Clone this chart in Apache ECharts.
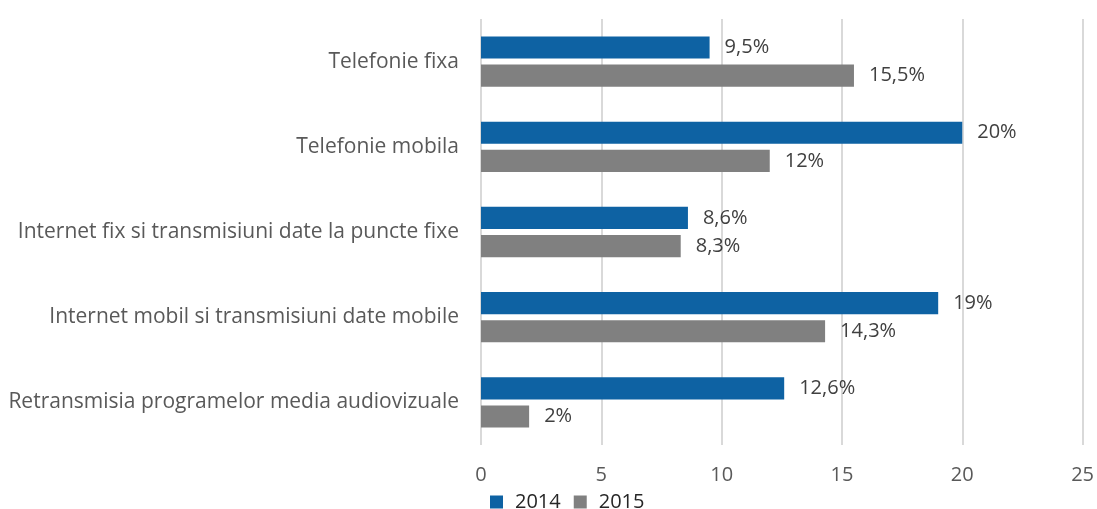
<!DOCTYPE html>
<html>
<head>
<meta charset="utf-8">
<script src="https://cdn.jsdelivr.net/npm/echarts@6/dist/echarts.min.js"></script>
<style>
  html, body { margin: 0; padding: 0; background: #fff; }
  #main { width: 1097px; height: 509px; }
</style>
</head>
<body>
<div id="main"></div>
<script>
var myChart = echarts.init(document.getElementById('main'));

// categories, top to bottom
var categories = [
    'Telefonie fixa',
    'Telefonie mobila',
    'Internet fix si transmisiuni date la puncte fixe',
    'Internet mobil si transmisiuni date mobile',
    'Retransmisia programelor media audiovizuale'
];
var seriesNames = ['2014', '2015'];
var values2014 = [9.5, 20, 8.6, 19, 12.6];
var values2015 = [15.5, 12, 8.3, 14.3, 2];
var labels2014 = ['9,5%', '20%', '8,6%', '19%', '12,6%'];
var labels2015 = ['15,5%', '12%', '8,3%', '14,3%', '2%'];

var fontFam = '"Open Sans", "Noto Sans", sans-serif';

function makeSeries(name, values, labels, color) {
    return {
        name: name,
        type: 'bar',
        data: values,
        barGap: '27%',
        barCategoryGap: '41%',
        itemStyle: { color: color },
        label: {
            show: true,
            position: 'right',
            distance: 15,
            color: '#404040',
            fontSize: 20,
            fontFamily: fontFam,
            formatter: function (p) { return labels[p.dataIndex]; }
        }
    };
}

option = {
    animation: false,
    textStyle: { fontFamily: fontFam },
    grid: { left: 481, right: 14, top: 19, bottom: 64 },
    legend: {
        data: seriesNames,
        left: 485,
        top: 487,
        padding: [5, 5, 0, 5],
        itemWidth: 13,
        itemHeight: 13,
        itemGap: 13,
        icon: 'rect',
        textStyle: {
            fontSize: 20,
            color: '#262626',
            fontFamily: fontFam,
            padding: [0, 0, 0, 7]
        }
    },
    xAxis: {
        type: 'value',
        min: 0,
        max: 25,
        interval: 5,
        axisLine: { show: false },
        axisTick: { show: false },
        axisLabel: { color: '#595959', fontSize: 20, margin: 20, fontFamily: fontFam },
        splitLine: { lineStyle: { color: '#d9d9d9', width: 2 } }
    },
    yAxis: {
        type: 'category',
        inverse: true,
        data: categories,
        axisLine: { show: false },
        axisTick: { show: false },
        axisLabel: { color: '#595959', fontSize: 21, margin: 22, fontFamily: fontFam }
    },
    series: [
        makeSeries(seriesNames[0], values2014, labels2014, '#0e62a3'),
        makeSeries(seriesNames[1], values2015, labels2015, '#808080')
    ]
};

myChart.setOption(option);
window.onresize = myChart.resize;
</script>
</body>
</html>
